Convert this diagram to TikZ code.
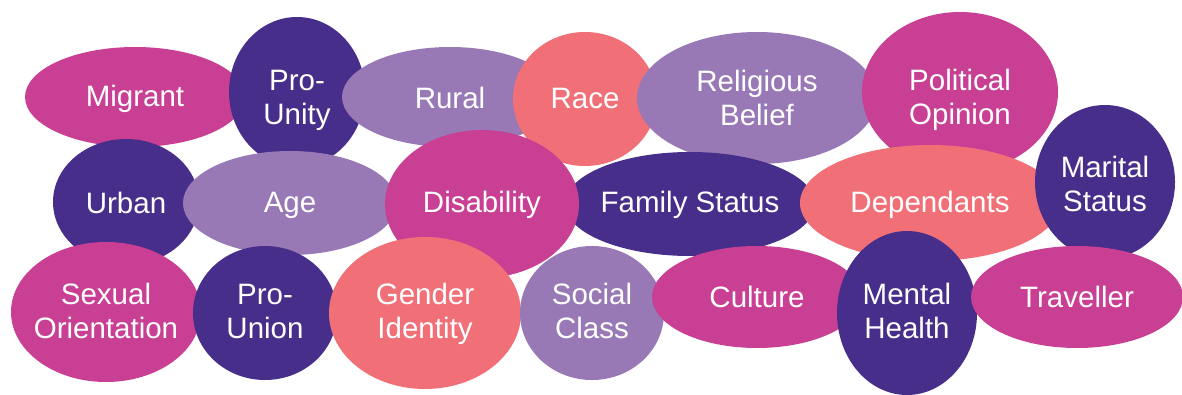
\documentclass[tikz,border=0pt]{standalone}
\usepackage{fontspec}
\setmainfont{Liberation Sans}
\usetikzlibrary{shapes.geometric}
\definecolor{cmag}{HTML}{C93F93}
\definecolor{cdark}{HTML}{472E8A}
\definecolor{clight}{HTML}{9879B6}
\definecolor{csal}{HTML}{F17078}
\tikzset{
  blob/.style args={#1/#2/#3}{ellipse, fill=#3, draw=none, inner sep=0pt,
    minimum width=2*#1, minimum height=2*#2},
  lbl/.style={text=white, align=center, inner sep=0pt,
    font=\fontsize{29.5pt}{34pt}\selectfont},
}
\begin{document}
\begin{tikzpicture}[x=1pt,y=-1pt]
\useasboundingbox (0,0) rectangle (1182,395);
% row 1
\node[blob=110pt/50pt/cmag] (migrant) at (135,97) {};
\node[lbl] (migrant-t) at ([yshift=-2pt]migrant.center) {Migrant};
\node[blob=68pt/75pt/cdark] (prounity) at (297,92) {};
\node[lbl] (prounity-t) at ([yshift=-8pt]prounity.center) {Pro-\\Unity};
\node[blob=108pt/50pt/clight] (rural) at (450,97) {};
\node[lbl] (rural-t) at ([yshift=-1pt]rural.center) {Rural};
\node[blob=72pt/67pt/csal] (race) at (585,99) {};
\node[lbl] (race-t) at ([yshift=1pt]race.center) {Race};
\node[blob=120pt/66pt/clight] (religious) at (757,98) {};
\node[lbl] (religious-t) at (religious.center) {Religious\\Belief};
\node[blob=98pt/80pt/cmag] (political) at (960,92) {};
\node[lbl] (political-t) at ([yshift=-8pt]political.center) {Political\\Opinion};
% row 2
\node[blob=73pt/63pt/cdark] (urban) at (126,202) {};
\node[lbl] (urban-t) at ([yshift=-1pt]urban.center) {Urban};
\node[blob=107pt/52pt/clight] (age) at (290,203) {};
\node[lbl] (age-t) at ([yshift=-2pt]age.center) {Age};
\node[blob=125pt/52pt/cdark] (family) at (690,204) {};
\node[lbl] (family-t) at ([yshift=-1pt]family.center) {Family Status};
\node[blob=97pt/74pt/cmag] (disability) at (482,204) {};
\node[lbl] (disability-t) at ([yshift=-1pt]disability.center) {Disability};
\node[blob=130pt/58pt/csal] (dependants) at (930,203) {};
\node[lbl] (dependants-t) at ([yshift=-2pt]dependants.center) {Dependants};
\node[blob=70pt/77pt/cdark] (marital) at (1105,182) {};
\node[lbl] (marital-t) at ([yshift=-2pt]marital.center) {Marital\\Status};
% row 3
\node[blob=95pt/70pt/cmag] (sexual) at (106,312) {};
\node[lbl] (sexual-t) at ([yshift=1pt]sexual.center) {Sexual\\Orientation};
\node[blob=72pt/67pt/cdark] (prounion) at (265,313) {};
\node[lbl] (prounion-t) at ([yshift=2pt]prounion.center) {Pro-\\Union};
\node[blob=96pt/76pt/csal] (gender) at (425,313) {};
\node[lbl] (gender-t) at ([yshift=-1pt]gender.center) {Gender\\Identity};
\node[blob=72pt/67pt/clight] (social) at (592,313) {};
\node[lbl] (social-t) at ([yshift=2pt]social.center) {Social\\Class};
\node[blob=105pt/51pt/cmag] (culture) at (757,297) {};
\node[lbl] (culture-t) at (culture.center) {Culture};
\node[blob=70pt/82pt/cdark] (mental) at (907,313) {};
\node[lbl] (mental-t) at ([yshift=2pt]mental.center) {Mental\\Health};
\node[blob=106pt/51pt/cmag] (traveller) at (1077,297) {};
\node[lbl] (traveller-t) at (traveller.center) {Traveller};
\end{tikzpicture}
\end{document}
